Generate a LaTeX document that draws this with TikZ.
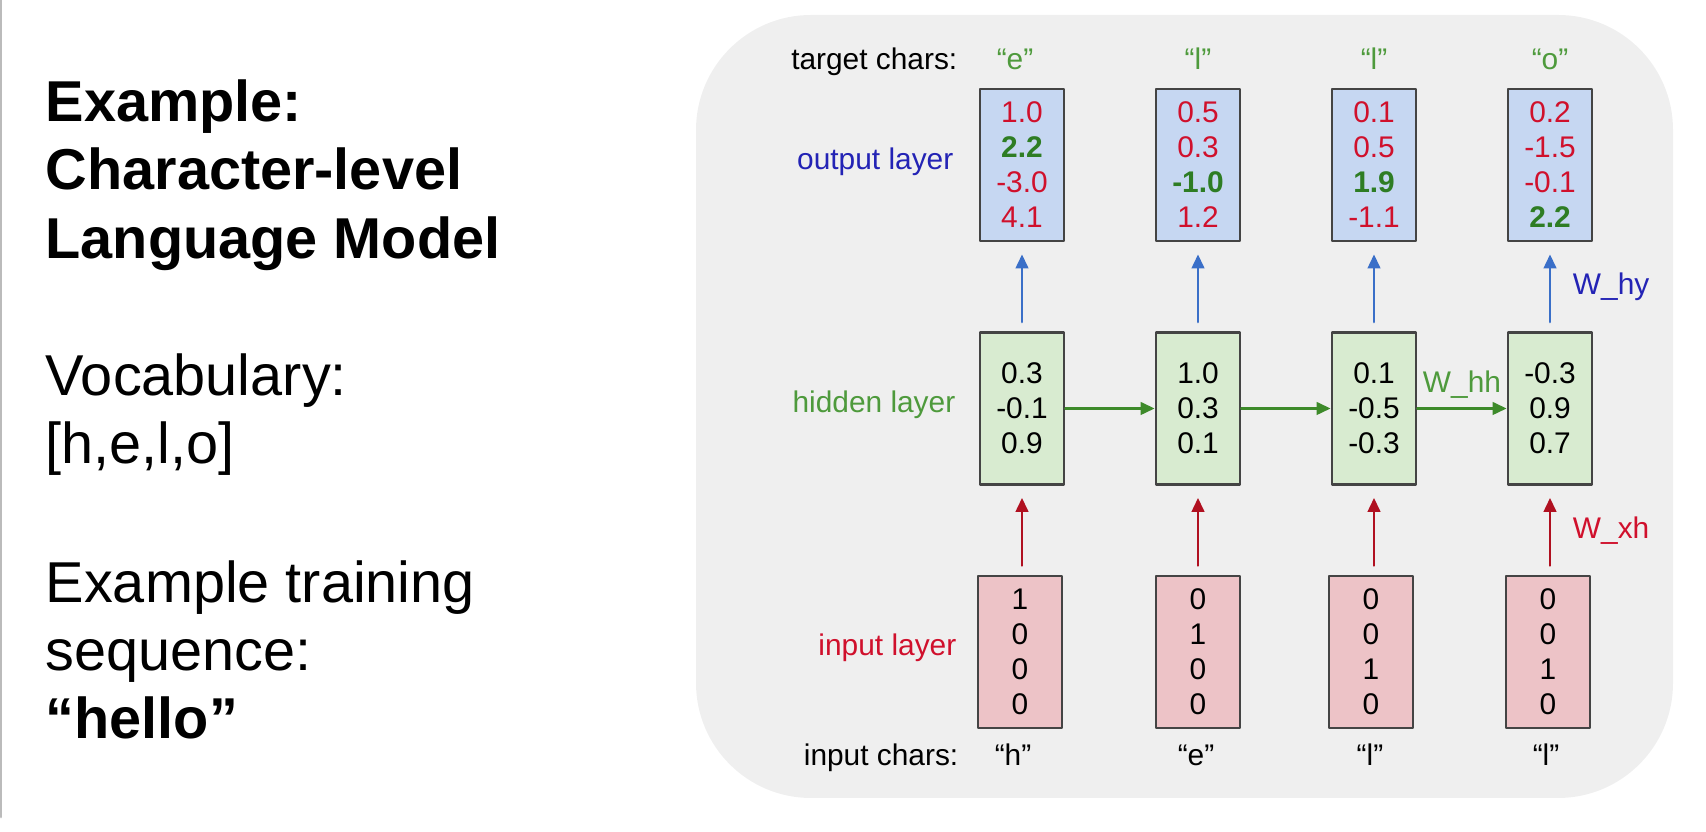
\documentclass[tikz,border=0pt]{standalone}
\usepackage{fontspec}
\setmainfont{Liberation Sans}
\usetikzlibrary{arrows.meta,positioning}
\definecolor{bggray}{HTML}{EFEFEF}
\definecolor{edgegray}{HTML}{BBBBBB}
\definecolor{boxedge}{HTML}{444444}
\definecolor{outfill}{HTML}{C6D7F2}
\definecolor{hidfill}{HTML}{D8EBD0}
\definecolor{infill}{HTML}{EDC3C7}
\definecolor{numred}{HTML}{D0102C}
\definecolor{numgreen}{HTML}{2E7D24}
\definecolor{txtgreen}{HTML}{4E9A3C}
\definecolor{txtblue}{HTML}{2323B5}
\definecolor{arrblue}{HTML}{3A6FC8}
\definecolor{arrred}{HTML}{B01020}
\definecolor{arrgreen}{HTML}{3D8A2A}
\newcommand{\redv}[1]{\textcolor{numred}{#1}}
\newcommand{\hitv}[1]{\textcolor{numgreen}{\textbf{#1}}}
\tikzset{
  vecbox/.style={draw=boxedge, line width=0.8pt, minimum width=0.84cm, minimum height=1.52cm, inner sep=0pt, align=center},
  outbox/.style={vecbox, fill=outfill},
  hidbox/.style={vecbox, fill=hidfill},
  inbox/.style={vecbox, fill=infill},
  lbl/.style={anchor=east, inner sep=0pt},
  chr/.style={anchor=base, inner sep=0pt},
  uparr/.style={-{Triangle[length=4pt,width=3.6pt]}, line width=0.7pt, shorten <=0.09cm, shorten >=0.12cm},
  recarr/.style={-{Triangle[length=4pt,width=3.6pt]}, line width=0.7pt, draw=arrgreen},
  bigtxt/.style={anchor=base west, inner sep=0pt, font=\fontsize{16.4}{19.7}\selectfont},
  every picture/.style={line cap=round, line join=round}
}

\begin{document}
\begin{tikzpicture}[font=\fontsize{8.5}{9.96}\selectfont]
  \useasboundingbox (0,0) rectangle (17.06,8.32);
  \draw[edgegray, line width=0.8pt] (0.01,0.15) -- (0.01,8.32);
  \fill[bggray, rounded corners=1.15cm] (6.96,0.34) rectangle (16.73,8.17);

  % left column text
  \node[bigtxt, font=\fontsize{16.4}{19.7}\selectfont\bfseries] (l1) at (0.45,7.10) {Example:};
  \node[bigtxt, font=\fontsize{16.4}{19.7}\selectfont\bfseries] (l2) at (0.45,6.42) {Character-level};
  \node[bigtxt, font=\fontsize{16.4}{19.7}\selectfont\bfseries] (l3) at (0.45,5.73) {Language Model};
  \node[bigtxt] (l4) at (0.45,4.36) {Vocabulary:};
  \node[bigtxt] (l5) at (0.45,3.68) {[h,e,l,o]};
  \node[bigtxt] (l6) at (0.45,2.29) {Example training};
  \node[bigtxt] (l7) at (0.45,1.61) {sequence:};
  \node[bigtxt, font=\fontsize{16.4}{19.7}\selectfont\bfseries] (l8) at (0.45,0.93) {“hello”};

  % row labels
  \node[anchor=base east, inner sep=0pt] (tc) at (9.58,7.62) {target chars:};
  \node[lbl, text=txtblue] (ol) at (9.54,6.70) {output layer};
  \node[lbl, text=txtgreen] (hl) at (9.56,4.27) {hidden layer};
  \node[lbl, text=numred] (il) at (9.57,1.84) {input layer};
  \node[anchor=base east, inner sep=0pt] (ic) at (9.59,0.66) {input chars:};

  % target chars
  \node[chr, text=txtgreen] (t1) at (10.15,7.62) {“e”};
  \node[chr, text=txtgreen] (t2) at (11.98,7.62) {“l”};
  \node[chr, text=txtgreen] (t3) at (13.74,7.62) {“l”};
  \node[chr, text=txtgreen] (t4) at (15.50,7.62) {“o”};

  % output layer
  \node[outbox] (o1) at (10.22,6.67) {\redv{1.0}\\\hitv{2.2}\\\redv{-3.0}\\\redv{4.1}};
  \node[outbox] (o2) at (11.98,6.67) {\redv{0.5}\\\redv{0.3}\\\hitv{-1.0}\\\redv{1.2}};
  \node[outbox] (o3) at (13.74,6.67) {\redv{0.1}\\\redv{0.5}\\\hitv{1.9}\\\redv{-1.1}};
  \node[outbox] (o4) at (15.50,6.67) {\redv{0.2}\\\redv{-1.5}\\\redv{-0.1}\\\hitv{2.2}};

  % hidden layer
  \node[hidbox] (h1) at (10.22,4.235) {0.3\\-0.1\\0.9};
  \node[hidbox] (h2) at (11.98,4.235) {1.0\\0.3\\0.1};
  \node[hidbox] (h3) at (13.74,4.235) {0.1\\-0.5\\-0.3};
  \node[hidbox] (h4) at (15.50,4.235) {-0.3\\0.9\\0.7};

  % input layer
  \node[inbox] (x1) at (10.20,1.80) {1\\0\\0\\0};
  \node[inbox] (x2) at (11.98,1.80) {0\\1\\0\\0};
  \node[inbox] (x3) at (13.71,1.80) {0\\0\\1\\0};
  \node[inbox] (x4) at (15.48,1.80) {0\\0\\1\\0};

  % input chars
  \node[chr] (c1) at (10.13,0.66) {“h”};
  \node[chr] (c2) at (11.96,0.66) {“e”};
  \node[chr] (c3) at (13.70,0.66) {“l”};
  \node[chr] (c4) at (15.46,0.66) {“l”};

  % connections
  \draw[uparr, draw=arrred] (x1.north -| h1) -- (h1);
  \draw[uparr, draw=arrred] (x2.north -| h2) -- (h2);
  \draw[uparr, draw=arrred] (x3.north -| h3) -- (h3);
  \draw[uparr, draw=arrred] (x4.north -| h4) -- node[right, xshift=0.1cm, text=numred] {W\_xh} (h4);
  \draw[uparr, draw=arrblue] (h1) -- (o1);
  \draw[uparr, draw=arrblue] (h2) -- (o2);
  \draw[uparr, draw=arrblue] (h3) -- (o3);
  \draw[uparr, draw=arrblue] (h4) -- node[right, xshift=0.1cm, text=txtblue] {W\_hy} (o4);
  \draw[recarr] (h1) -- (h2);
  \draw[recarr] (h2) -- (h3);
  \draw[recarr] (h3) -- node[above, inner sep=2.5pt, text=txtgreen] {W\_hh} (h4);
\end{tikzpicture}
\end{document}
